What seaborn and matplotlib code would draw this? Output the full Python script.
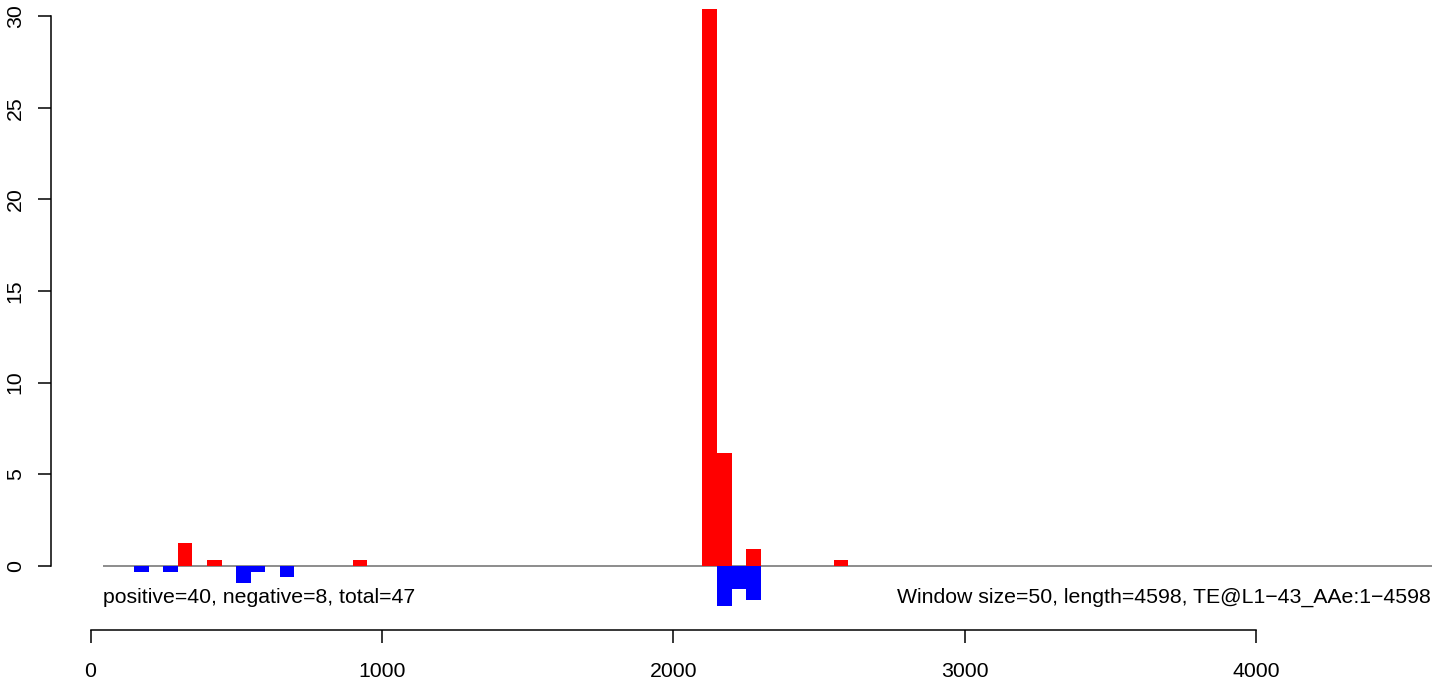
import numpy as np
import pandas as pd
import matplotlib
matplotlib.use("Agg")
import matplotlib.pyplot as plt
import seaborn as sns

# ---- data ----
window_size = 50
seq_length = 4598
pos_starts = [300, 400, 900, 2100, 2150, 2250, 2550]
pos_values = [1.24, 0.31, 0.31, 30.4, 6.18, 0.94, 0.31]
neg_starts = [150, 250, 500, 550, 650, 2150, 2200, 2250]
neg_values = [-0.31, -0.31, -0.94, -0.31, -0.62, -2.17, -1.23, -1.86]
x_ticks = [0, 1000, 2000, 3000, 4000]
y_ticks = [0, 5, 10, 15, 20, 25, 30]
left_label = "positive=40, negative=8, total=47"
right_label = "Window size=50, length=4598, TE@L1\u221243_AAe:1\u22124598"

sns.set_theme(style="white")
plt.rcParams["font.family"] = ["Liberation Sans", "DejaVu Sans"]
FS = 15.35

W, H = 1439, 681
fig = plt.figure(figsize=(W / 100, H / 100), dpi=100)
# axes rectangle in pixels: left 51, right 1432, top 0, bottom 630
ax = fig.add_axes([51 / W, (H - 630) / H, (1432 - 51) / W, 630 / H])

pos_df = pd.DataFrame({"start": pos_starts, "value": pos_values})
neg_df = pd.DataFrame({"start": neg_starts, "value": neg_values})
bin_range = (0, np.ceil(seq_length / window_size) * window_size)

sns.histplot(data=pos_df, x="start", weights="value", binwidth=window_size,
             binrange=bin_range, color="#FF0000", alpha=1, linewidth=0,
             edgecolor="none", ax=ax, zorder=3)
sns.histplot(data=neg_df, x="start", weights="value", binwidth=window_size,
             binrange=bin_range, color="#0000FF", alpha=1, linewidth=0,
             edgecolor="none", ax=ax, zorder=3)

# baseline
ax.hlines(0, 43, seq_length + 6, color="#6e6e6e", lw=1.1, zorder=1)

# scales: 0 -> px 90.5, 4000 -> px 1256 ; y 0 -> px 566, 30 -> px 16
xpx = (1256 - 90.5) / 4000.0
ax.set_xlim((51 - 90.5) / xpx, (1432 - 90.5) / xpx)
ypx = (566 - 16) / 30.0
ax.set_ylim(-(630 - 566) / ypx, 566 / ypx)

ax.set_xlabel("")
ax.set_ylabel("")
ax.grid(False)
for s in ["top", "right"]:
    ax.spines[s].set_visible(False)
for s in ["left", "bottom"]:
    ax.spines[s].set_color("black")
    ax.spines[s].set_linewidth(1.1)
ax.spines["left"].set_bounds(0, 30)
ax.spines["bottom"].set_bounds(0, 4000)

ax.set_xticks(x_ticks)
ax.set_xticklabels([str(t) for t in x_ticks])
ax.set_yticks(y_ticks)
ax.set_yticklabels([str(t) for t in y_ticks], rotation=90, va="center")
ax.tick_params(axis="x", direction="out", length=9.4, width=1.1, color="black",
               pad=13.5, labelsize=FS, labelcolor="black", bottom=True)
ax.tick_params(axis="y", direction="out", length=9.4, width=1.1, color="black",
               pad=9.5, labelsize=FS, labelcolor="black", left=True)

ylab_base = -(603 - 566) / ypx
ax.text(43, ylab_base, left_label, ha="left", va="baseline", fontsize=FS,
        color="black")
ax.text(seq_length + 3, ylab_base, right_label, ha="right", va="baseline",
        fontsize=FS, color="black")

fig.savefig("out.png", dpi=100)
